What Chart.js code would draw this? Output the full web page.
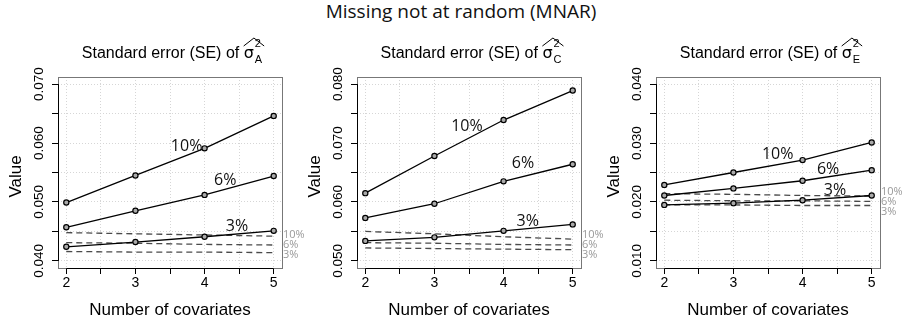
<!DOCTYPE html>
<html>
<head>
<meta charset="utf-8">
<script src="https://cdn.jsdelivr.net/npm/chart.js@4.4.0/dist/chart.umd.min.js"></script>
<style>
body { margin: 0; background: #fff; width: 904px; height: 322px; position: relative; overflow: hidden; }
#main { position: absolute; top: -1px; left: 261px; width: 400px; text-align: center; font: 19px "Open Sans"; line-height: 24px; color: #111; }
.panel { position: absolute; top: 0; }
</style>
</head>
<body>
<div id="main">Missing not at random (MNAR)</div>
<div class="panel" style="left:0"><canvas id="cA" width="306" height="322"></canvas></div>
<div class="panel" style="left:299px"><canvas id="cC" width="306" height="322"></canvas></div>
<div class="panel" style="left:598px"><canvas id="cE" width="306" height="322"></canvas></div>
<script>
var covariates = [2, 3, 4, 5];
var rates = ['10%', '6%', '3%'];

// SE of sigma^2 A, by missing rate
var seA10 = [0.0499, 0.0545, 0.0591, 0.0646];
var seA6 = [0.0457, 0.0485, 0.0512, 0.0544];
var seA3 = [0.0424, 0.0432, 0.0441, 0.0451];
var refA10 = [0.0448, 0.0446, 0.0444, 0.0442];
var refA6 = [0.0431, 0.0430, 0.0428, 0.0427];
var refA3 = [0.0416, 0.0415, 0.0415, 0.0414];

// SE of sigma^2 C
var seC10 = [0.0615, 0.0678, 0.0739, 0.0789];
var seC6 = [0.0573, 0.0597, 0.0635, 0.0664];
var seC3 = [0.0534, 0.0540, 0.0551, 0.0562];
var refC10 = [0.0550, 0.0546, 0.0541, 0.0537];
var refC6 = [0.0531, 0.0530, 0.0528, 0.0527];
var refC3 = [0.0522, 0.0521, 0.0520, 0.0519];

// SE of sigma^2 E
var seE10 = [0.0229, 0.0250, 0.0271, 0.0301];
var seE6 = [0.0211, 0.0223, 0.0236, 0.0254];
var seE3 = [0.0195, 0.0198, 0.0203, 0.0211];
var refE10 = [0.0214, 0.0213, 0.0211, 0.0210];
var refE6 = [0.0203, 0.0202, 0.0202, 0.0201];
var refE3 = [0.0195, 0.0195, 0.0194, 0.0194];

var yTicksA = [0.040, 0.050, 0.060, 0.070];
var yTicksC = [0.050, 0.060, 0.070, 0.080];
var yTicksE = [0.010, 0.020, 0.030, 0.040];

function pts(ys) {
	var out = [];
	for (var i in covariates) out.push({x: covariates[i], y: ys[i]});
	return out;
}

var sansFont = '"Liberation Sans", Arial, sans-serif';

function makePanel(id, sub, se, ref, yTicks, labelAt) {
	var lo = yTicks[0], hi = yTicks[yTicks.length - 1];
	var ext = (hi - lo) * 0.04;

	var datasets = [];
	for (var k = 0; k < 3; k++) {
		datasets.push({
			data: pts(se[k]),
			borderColor: '#000',
			borderWidth: 1.3,
			pointRadius: 2.6,
			pointBorderWidth: 1.2,
			pointBorderColor: '#000',
			pointBackgroundColor: '#aaa',
			tension: 0
		});
	}
	for (var k = 0; k < 3; k++) {
		datasets.push({
			data: pts(ref[k]),
			borderColor: '#4a4a4a',
			borderWidth: 1.3,
			borderDash: [6, 4],
			pointRadius: 0,
			tension: 0
		});
	}

	var deco = {
		id: 'deco',
		afterDraw: function(chart) {
			var ctx = chart.ctx;
			var a = chart.chartArea;
			var xs = chart.scales.x, ys = chart.scales.y;
			ctx.save();

			// box and axis lines
			ctx.strokeStyle = '#777';
			ctx.lineWidth = 1;
			ctx.strokeRect(Math.round(a.left) + 0.5, Math.round(a.top) + 0.5, Math.round(a.right - a.left), Math.round(a.bottom - a.top));
			ctx.strokeStyle = '#000';
			ctx.beginPath();
			ctx.moveTo(Math.round(a.left) + 0.5, ys.getPixelForValue(lo));
			ctx.lineTo(Math.round(a.left) + 0.5, ys.getPixelForValue(hi));
			ctx.moveTo(xs.getPixelForValue(2), Math.round(a.bottom) + 0.5);
			ctx.lineTo(xs.getPixelForValue(5), Math.round(a.bottom) + 0.5);
			ctx.stroke();

			// y tick labels, rotated
			ctx.fillStyle = '#000';
			ctx.font = '13.5px ' + sansFont;
			ctx.textAlign = 'center';
			ctx.textBaseline = 'alphabetic';
			yTicks.forEach(function(v) {
				var py = ys.getPixelForValue(v);
				ctx.save();
				ctx.translate(a.left - 15, py);
				ctx.rotate(-Math.PI / 2);
				ctx.fillText(v.toFixed(3), 0, 0);
				ctx.restore();
			});

			// x tick labels
			ctx.font = '14px ' + sansFont;
			covariates.forEach(function(v) {
				ctx.fillText(String(v), xs.getPixelForValue(v), 286.5);
			});

			// axis titles
			ctx.font = '17px ' + sansFont;
			ctx.save();
			ctx.translate(21, (a.top + a.bottom) / 2 + 4);
			ctx.rotate(-Math.PI / 2);
			ctx.fillText('Value', 0, 0);
			ctx.restore();
			ctx.fillText('Number of covariates', (xs.getPixelForValue(2) + xs.getPixelForValue(5)) / 2, 315);

			// panel title with hat sigma squared
			var t1 = 'Standard error (SE) of ';
			ctx.font = '16px ' + sansFont;
			var w1 = ctx.measureText(t1).width;
			ctx.font = '16px "DejaVu Sans"';
			var ws = ctx.measureText('σ').width;
			ctx.font = '11px ' + sansFont;
			var w2 = Math.max(ctx.measureText('2').width, ctx.measureText(sub).width);
			var total = w1 + ws + w2 + 1;
			var x0 = (a.left + a.right) / 2 - total / 2 + 2;
			var base = 58;
			ctx.textAlign = 'left';
			ctx.font = '16px ' + sansFont;
			ctx.fillText(t1, x0, base);
			ctx.font = '16px "DejaVu Sans"';
			ctx.fillText('σ', x0 + w1, base);
			ctx.font = '11px ' + sansFont;
			ctx.fillText('2', x0 + w1 + ws + 1, base - 11);
			ctx.fillText(sub, x0 + w1 + ws + 1, base + 5);
			ctx.lineWidth = 1;
			ctx.beginPath();
			ctx.moveTo(x0 + w1, base - 12);
			ctx.lineTo(x0 + w1 + (ws + w2 + 3) / 2, base - 20);
			ctx.lineTo(x0 + w1 + ws + w2 + 3, base - 12);
			ctx.stroke();

			// rate labels on the lines
			ctx.font = '16px "Open Sans"';
			ctx.fillStyle = '#111';
			ctx.textAlign = 'center';
			ctx.textBaseline = 'middle';
			for (var k = 0; k < 3; k++) {
				ctx.fillText(rates[k], xs.getPixelForValue(labelAt[k][0]), ys.getPixelForValue(labelAt[k][1]));
			}

			// rate labels at the end of the dashed lines
			var yy = [];
			for (var k = 0; k < 3; k++) yy.push(ys.getPixelForValue(ref[k][3]));
			if (yy[1] - yy[0] < 10) yy[0] = yy[1] - 10;
			if (yy[2] - yy[1] < 10) yy[2] = yy[1] + 10;
			ctx.font = '11px "Open Sans"';
			ctx.fillStyle = '#999';
			ctx.textAlign = 'left';
			for (var k = 0; k < 3; k++) {
				ctx.fillText(rates[k], a.right + 1, yy[k]);
			}
			ctx.restore();
		}
	};

	return new Chart(document.getElementById(id), {
		type: 'line',
		data: { datasets: datasets },
		options: {
			responsive: false,
			animation: false,
			layout: { padding: { left: 0, top: 77, right: 306 - 282, bottom: 0 } },
			plugins: { legend: { display: false }, tooltip: { enabled: false } },
			scales: {
				x: {
					type: 'linear',
					min: 1.88,
					max: 5.12,
					afterFit: function(s) { s.height = 54; },
					border: { display: false, dash: [1, 2] },
					grid: { color: '#d6d6d6', tickColor: '#000', tickLength: 6, tickBorderDash: [] },
					ticks: { stepSize: 0.5, includeBounds: false, autoSkip: false, maxRotation: 0, display: false }
				},
				y: {
					type: 'linear',
					min: lo - ext,
					max: hi + ext,
					afterFit: function(s) { s.width = 58; },
					border: { display: false, dash: [1, 2] },
					grid: { color: '#d6d6d6', tickColor: '#000', tickLength: 6, tickBorderDash: [] },
					ticks: { stepSize: 0.005, includeBounds: false, display: false }
				}
			}
		},
		plugins: [deco]
	});
}

makePanel('cA', 'A', [seA10, seA6, seA3], [refA10, refA6, refA3], yTicksA,
	[[3.74, 0.0595], [4.3, 0.0537], [4.47, 0.0459]]);
makePanel('cC', 'C', [seC10, seC6, seC3], [refC10, refC6, refC3], yTicksC,
	[[3.47, 0.0728], [4.28, 0.0666], [4.35, 0.0567]]);
makePanel('cE', 'E', [seE10, seE6, seE3], [refE10, refE6, refE3], yTicksE,
	[[3.64, 0.0280], [4.37, 0.0255], [4.47, 0.0220]]);
</script>
</body>
</html>
